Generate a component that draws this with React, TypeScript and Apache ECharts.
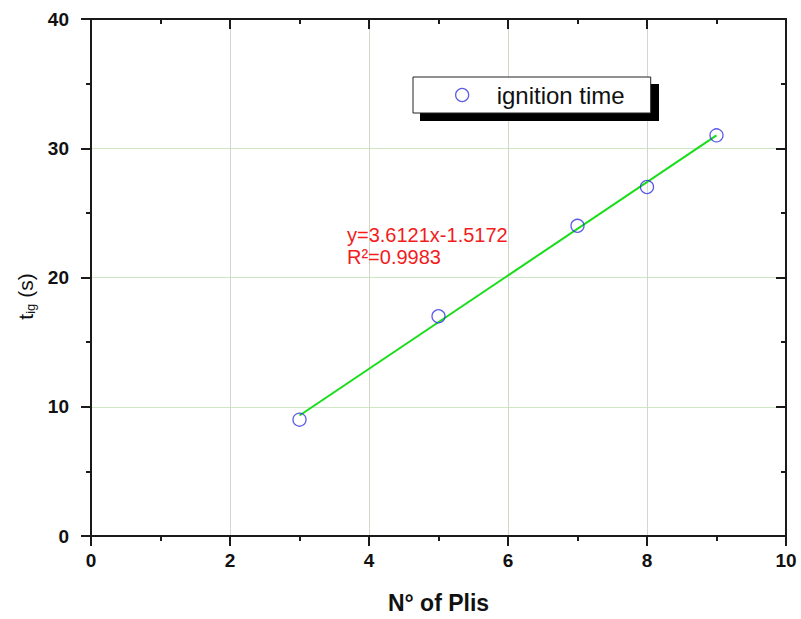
import React, { useEffect, useRef } from "react";
import * as echarts from "echarts";

const plies = [3, 5, 7, 8, 9];
const ignitionTime = [9, 17, 24, 27, 31];
const fitLine = [
  [3, 9.32],
  [9, 30.99],
];
const xTicks = [0, 2, 4, 6, 8, 10];
const yTicks = [0, 10, 20, 30, 40];
const equationText = "y=3.6121x-1.5172";
const r2Text = "R²=0.9983";
const legendLabel = "ignition time";

const FONT = "'Liberation Sans', Arial, sans-serif";

export default function App() {
  const ref = useRef<HTMLDivElement>(null);
  useEffect(() => {
    if (!ref.current) return;
    const chart = echarts.init(ref.current, undefined, { renderer: "svg" });
    const axisColor = "#1a1a1a";
    const axisLine = { show: true, onZero: false, lineStyle: { color: axisColor, width: 2 } };
    const majorTick = (inside: boolean) => ({
      show: true,
      inside,
      length: 10,
      lineStyle: { color: axisColor, width: 2 },
    });
    const minorTick = { show: true, splitNumber: 2, length: 5, lineStyle: { color: axisColor, width: 2 } };
    const tickLabel = { fontSize: 19, fontWeight: "bold", color: "#111", fontFamily: FONT };
    chart.setOption({
      animation: false,
      backgroundColor: "#fff",
      grid: { left: 91, right: 15, top: 19, bottom: 82 },
      xAxis: [
        {
          type: "value",
          min: xTicks[0],
          max: xTicks[xTicks.length - 1],
          interval: 2,
          position: "bottom",
          axisLine,
          axisTick: majorTick(false),
          minorTick,
          splitLine: { show: true, lineStyle: { color: "#cfd8ca", width: 1 } },
          axisLabel: { margin: 15, ...tickLabel },
          name: "N° of Plis",
          nameLocation: "middle",
          nameGap: 55,
          nameTextStyle: { fontSize: 23, fontWeight: "bold", color: "#111", fontFamily: FONT },
        },
        {
          type: "value",
          min: xTicks[0],
          max: xTicks[xTicks.length - 1],
          interval: 2,
          position: "top",
          axisLine,
          axisTick: majorTick(true),
          minorTick,
          splitLine: { show: false },
          axisLabel: { show: false },
        },
      ],
      yAxis: [
        {
          type: "value",
          min: yTicks[0],
          max: yTicks[yTicks.length - 1],
          interval: 10,
          position: "left",
          axisLine,
          axisTick: majorTick(false),
          minorTick,
          splitLine: { show: true, lineStyle: { color: "#cde6c3", width: 1 } },
          axisLabel: { margin: 22, ...tickLabel },
          name: "{a|t}{b|ig}{a| (s)}",
          nameLocation: "middle",
          nameGap: 54,
          nameTextStyle: {
            color: "#111",
            fontFamily: FONT,
            padding: [0, 38, 0, 0],
            rich: {
              a: { fontSize: 21, color: "#111", fontFamily: FONT },
              b: { fontSize: 13, color: "#111", fontFamily: FONT, padding: [10, 0, 0, 0] },
            },
          },
        },
        {
          type: "value",
          min: yTicks[0],
          max: yTicks[yTicks.length - 1],
          interval: 10,
          position: "right",
          axisLine,
          axisTick: majorTick(true),
          minorTick,
          splitLine: { show: false },
          axisLabel: { show: false },
        },
      ],
      legend: {
        left: 413,
        top: 77,
        padding: [6, 26, 6, 42],
        backgroundColor: "#fff",
        borderColor: "#222",
        borderWidth: 1,
        borderRadius: 0,
        itemWidth: 13,
        itemHeight: 13,
        z: 10,
        data: [
          {
            name: legendLabel,
            icon: "circle",
            itemStyle: { color: "#fff", borderColor: "#3333dd", borderWidth: 1.3 },
          },
        ],
        textStyle: { fontSize: 24, color: "#111", fontFamily: FONT, padding: [0, 0, 0, 23] },
      },
      graphic: [
        {
          type: "rect",
          left: 420,
          top: 84,
          shape: { width: 239, height: 37 },
          style: { fill: "#000" },
          z: 9,
          silent: true,
        },
        {
          type: "text",
          left: 347,
          top: 224,
          style: {
            text: equationText + "\n" + r2Text,
            fill: "#f21c1c",
            fontSize: 20,
            lineHeight: 22,
            fontFamily: FONT,
          },
          z: 20,
        },
      ],
      series: [
        {
          name: "fit",
          type: "line",
          data: fitLine,
          showSymbol: false,
          symbol: "none",
          lineStyle: { color: "#18dd18", width: 2 },
          z: 3,
        },
        {
          name: legendLabel,
          type: "scatter",
          data: plies.map((x, i) => [x, ignitionTime[i]]),
          symbol: "circle",
          symbolSize: 13,
          itemStyle: { color: "rgba(255,255,255,0)", borderColor: "#3333dd", borderWidth: 1.3 },
          z: 4,
        },
      ],
    });
    return () => chart.dispose();
  }, []);
  return (
    <div
      ref={ref}
      style={{ position: "absolute", left: 0, top: 0, width: 801, height: 619 }}
    />
  );
}
